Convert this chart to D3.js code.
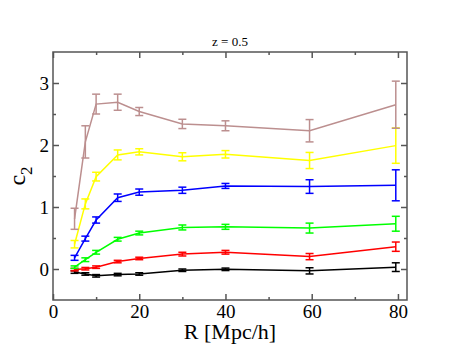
<!DOCTYPE html>
<html>
<head>
<meta charset="utf-8">
<script src="https://cdn.jsdelivr.net/npm/d3@7"></script>
<style>
  body { margin: 0; background: #fff; }
  svg text { font-family: "Times New Roman", "Liberation Serif", Times, serif !important; }
</style>
</head>
<body>
<div id="chart"></div>
<script>
// R values (Mpc/h)
var radii = [5, 7.5, 10, 15, 20, 30, 40, 59.5, 79.5];

// c2 values per series, with errors
var blackVals = [-0.05, -0.08, -0.11, -0.09, -0.08, -0.02, -0.005, -0.03, 0.03];
var blackErr  = [0.02, 0.02, 0.02, 0.02, 0.02, 0.02, 0.02, 0.05, 0.07];
var redVals   = [-0.01, 0.005, 0.03, 0.12, 0.17, 0.24, 0.27, 0.2, 0.36];
var redErr    = [0.02, 0.02, 0.02, 0.02, 0.02, 0.03, 0.03, 0.05, 0.075];
var greenVals = [0.03, 0.15, 0.27, 0.48, 0.58, 0.67, 0.68, 0.66, 0.73];
var greenErr  = [0.02, 0.03, 0.03, 0.03, 0.03, 0.04, 0.04, 0.08, 0.12];
var blueVals  = [0.18, 0.49, 0.79, 1.15, 1.24, 1.27, 1.34, 1.33, 1.35];
var blueErr   = [0.04, 0.04, 0.05, 0.06, 0.05, 0.05, 0.04, 0.11, 0.25];
var yellowVals = [0.4, 1.05, 1.49, 1.84, 1.89, 1.81, 1.85, 1.75, 1.99];
var yellowErr  = [0.06, 0.08, 0.07, 0.08, 0.05, 0.065, 0.06, 0.13, 0.285];
var brownVals = [0.81, 2.05, 2.66, 2.69, 2.54, 2.34, 2.31, 2.23, 2.65];
var brownErr  = [0.17, 0.26, 0.16, 0.13, 0.065, 0.075, 0.08, 0.18, 0.38];

var seriesNames = ['black', 'red', 'green', 'blue', 'yellow', 'brown'];
var seriesColors = ['#000000', '#ff0000', '#00ff00', '#0000ff', '#ffff00', '#bc8f8f'];

var xTicks = [0, 20, 40, 60, 80];
var xMinor = [10, 30, 50, 70];
var yTicks = [0, 1, 2, 3];
var yMinor = [0.5, 1.5, 2.5];

var series = [
  { vals: blackVals, err: blackErr },
  { vals: redVals, err: redErr },
  { vals: greenVals, err: greenErr },
  { vals: blueVals, err: blueErr },
  { vals: yellowVals, err: yellowErr },
  { vals: brownVals, err: brownErr }
];

var width = 458,
  height = 354;

var margin = { top: 52, right: 51, bottom: 54, left: 53 };

var svg = d3.select('#chart')
  .append('svg')
  .attr('width', width)
  .attr('height', height);

var w = width - margin.left - margin.right,
  h = height - margin.top - margin.bottom;

var g = svg.append('g')
  .attr('transform', 'translate(' + margin.left + ',' + margin.top + ')');

// Scales
var xScale = d3.scaleLinear().domain([0, 82.1]).range([0, w]);
var yScale = d3.scaleLinear().domain([-0.5, 3.5]).range([h, 0]);

var line = d3.line()
  .x(function(d) { return xScale(d.x); })
  .y(function(d) { return yScale(d.y); });

// Data lines and error bars
series.forEach(function(s, i) {
  var pts = radii.map(function(r, j) {
    return { x: r, y: s.vals[j], e: s.err[j] };
  });
  var col = seriesColors[i];
  var sg = g.append('g').attr('class', 'series ' + seriesNames[i]);

  sg.append('path')
    .datum(pts)
    .attr('fill', 'none')
    .attr('stroke', col)
    .attr('stroke-width', 1.5)
    .attr('d', line);

  var eb = sg.selectAll('.err')
    .data(pts)
    .enter()
    .append('g')
    .attr('stroke', col)
    .attr('stroke-width', 1.5);

  eb.append('line')
    .attr('x1', function(d) { return xScale(d.x); })
    .attr('x2', function(d) { return xScale(d.x); })
    .attr('y1', function(d) { return yScale(d.y - d.e); })
    .attr('y2', function(d) { return yScale(d.y + d.e); });

  [-1, 1].forEach(function(sign) {
    eb.append('line')
      .attr('x1', function(d) { return xScale(d.x) - 4; })
      .attr('x2', function(d) { return xScale(d.x) + 4; })
      .attr('y1', function(d) { return yScale(d.y + sign * d.e); })
      .attr('y2', function(d) { return yScale(d.y + sign * d.e); });
  });
});

// Axes, ticks pointing inward
var axisColor = '#555';
var fmt = d3.format('d');

var axes = g.append('g').attr('class', 'axes');

axes.append('g')
  .attr('transform', 'translate(0,' + h + ')')
  .call(d3.axisBottom(xScale).tickValues(xTicks).tickSize(-6).tickPadding(5).tickFormat(fmt));
axes.append('g')
  .attr('transform', 'translate(0,' + h + ')')
  .call(d3.axisBottom(xScale).tickValues(xMinor).tickSize(-3).tickFormat(''));
axes.append('g')
  .call(d3.axisTop(xScale).tickValues(xTicks).tickSize(-6).tickFormat(''));
axes.append('g')
  .call(d3.axisTop(xScale).tickValues(xMinor).tickSize(-3).tickFormat(''));

axes.append('g')
  .call(d3.axisLeft(yScale).tickValues(yTicks).tickSize(-6).tickPadding(4).tickFormat(fmt));
axes.append('g')
  .call(d3.axisLeft(yScale).tickValues(yMinor).tickSize(-3).tickFormat(''));
axes.append('g')
  .attr('transform', 'translate(' + w + ',0)')
  .call(d3.axisRight(yScale).tickValues(yTicks).tickSize(-6).tickFormat(''));
axes.append('g')
  .attr('transform', 'translate(' + w + ',0)')
  .call(d3.axisRight(yScale).tickValues(yMinor).tickSize(-3).tickFormat(''));

axes.selectAll('g').attr('font-size', 19);
axes.selectAll('.domain').remove();
axes.selectAll('.tick line').attr('stroke', axisColor).attr('stroke-width', 1.5);
axes.selectAll('.tick text').attr('fill', '#000');

// Frame
g.append('rect')
  .attr('width', w)
  .attr('height', h)
  .attr('fill', 'none')
  .attr('stroke', axisColor)
  .attr('stroke-width', 1.5);

// Title
svg.append('text')
  .attr('x', margin.left + w / 2)
  .attr('y', 46)
  .attr('text-anchor', 'middle')
  .style('font-size', '13px')
  .text('z = 0.5');

// X label
svg.append('text')
  .attr('x', margin.left + w / 2)
  .attr('y', 339)
  .attr('text-anchor', 'middle')
  .style('font-size', '22px')
  .text('R [Mpc/h]');

// Y label
var yl = svg.append('text')
  .attr('transform', 'translate(25,' + (margin.top + h / 2) + ') rotate(-90)')
  .attr('text-anchor', 'middle')
  .style('font-size', '24px');
yl.append('tspan').text('c');
yl.append('tspan').attr('dy', 7).style('font-size', '17px').text('2');
</script>
</body>
</html>
